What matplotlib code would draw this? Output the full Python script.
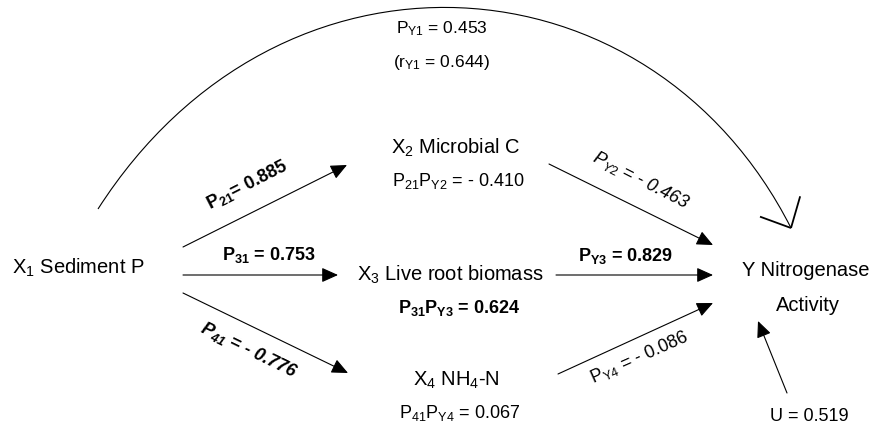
import numpy as np
import matplotlib
matplotlib.use('Agg')
import matplotlib.pyplot as plt
from matplotlib.patches import FancyArrowPatch, PathPatch
from matplotlib.path import Path

plt.rcParams['font.family'] = ['Liberation Sans', 'DejaVu Sans']
plt.rcParams['mathtext.fontset'] = 'custom'
plt.rcParams['mathtext.rm'] = 'Liberation Sans'
plt.rcParams['mathtext.it'] = 'Liberation Sans:italic'
plt.rcParams['mathtext.bf'] = 'Liberation Sans:bold'
plt.rcParams['mathtext.bfit'] = 'Liberation Sans:italic:bold'

# path coefficients
direct_names = ['21', '31', '41']          # X1 -> X2, X3, X4
direct_coefs = [0.885, 0.753, -0.776]
to_y_names = ['Y2', 'Y3', 'Y4']            # X2, X3, X4 -> Y
to_y_coefs = [-0.463, 0.829, -0.086]
indirect = [-0.410, 0.624, 0.067]          # P_k1 * P_Yk
p_y1 = 0.453
r_y1 = 0.644
u_resid = 0.519


def fmt(v):
    return '- %.3f' % -v if v < 0 else '%.3f' % v


fig = plt.figure(figsize=(8.78, 4.26), dpi=100)
ax = fig.add_axes([0, 0, 1, 1])
ax.set_xlim(0, 878)
ax.set_ylim(426, 0)
ax.axis('off')

NODE = 14.5
LAB = 13


def arrow(p0, p1):
    a = FancyArrowPatch(p0, p1, arrowstyle='-|>,head_length=1.0,head_width=0.45',
                        mutation_scale=10, lw=0.8, color='black',
                        shrinkA=0, shrinkB=0)
    ax.add_patch(a)


# nodes
ax.text(12, 274, r'$\mathrm{X_1}$ Sediment P', fontsize=NODE, va='baseline')
ax.text(391, 154, r'$\mathrm{X_2}$ Microbial C', fontsize=NODE, va='baseline')
ax.text(357, 281, r'$\mathrm{X_3}$ Live root biomass', fontsize=NODE, va='baseline')
ax.text(413, 386, r'$\mathrm{X_4}$ $\mathrm{NH_4}$-N', fontsize=NODE, va='baseline')
ax.text(742, 276, 'Y Nitrogenase', fontsize=NODE, va='baseline')
ax.text(776, 311, 'Activity', fontsize=NODE, va='baseline')

# indirect effects under the mediators
ax.text(392, 186, r'$\mathrm{P_{%s}P_{%s}}$ = %s' % (direct_names[0], to_y_names[0], fmt(indirect[0])),
        fontsize=LAB, va='baseline')
ax.text(398, 313, r'$\mathbf{P_{%s}P_{%s}}$ = %s' % (direct_names[1], to_y_names[1], fmt(indirect[1])),
        fontsize=LAB, va='baseline', fontweight='bold')
ax.text(399, 418, r'$\mathrm{P_{%s}P_{%s}}$ = %s' % (direct_names[2], to_y_names[2], fmt(indirect[2])),
        fontsize=LAB, va='baseline')

# arrows X1 -> mediators
arrow((183, 247), (347, 165))
arrow((183, 275), (338, 275))
arrow((183, 293), (348, 373))
# mediators -> Y
arrow((549, 164), (713, 245))
arrow((556, 275), (713, 275))
arrow((558, 374), (713, 303))
# residual
arrow((787, 393), (758, 321))

# path labels
ax.text(247, 185, r'$\mathbf{P_{%s}}$= %s' % (direct_names[0], fmt(direct_coefs[0])),
        fontsize=LAB, fontweight='bold', rotation=27, ha='center', va='center',
        rotation_mode='anchor')
ax.text(222, 260, r'$\mathbf{P_{%s}}$ = %s' % (direct_names[1], fmt(direct_coefs[1])),
        fontsize=LAB, fontweight='bold', va='baseline')
ax.text(249, 350, r'$\mathbfit{P_{%s}}$ = %s' % (direct_names[2], fmt(direct_coefs[2])),
        fontsize=LAB, fontweight='bold', style='italic', rotation=-26, ha='center',
        va='center', rotation_mode='anchor')
ax.text(641, 180, r'$\mathit{P_{%s}}$ = %s' % (to_y_names[0], fmt(to_y_coefs[0])),
        fontsize=LAB, style='italic', rotation=-27, ha='center', va='center',
        rotation_mode='anchor')
ax.text(578, 261, r'$\mathbf{P_{%s}}$ = %s' % (to_y_names[1], fmt(to_y_coefs[1])),
        fontsize=LAB, fontweight='bold', va='baseline')
ax.text(639, 357, r'$\mathrm{P_{%s}}$ = %s' % (to_y_names[2], fmt(to_y_coefs[2])),
        fontsize=LAB, rotation=24, ha='center', va='center', rotation_mode='anchor')
ax.text(770, 421, 'U = %.3f' % u_resid, fontsize=LAB, va='baseline')

# direct effect X1 -> Y (curved, open head)
p0, p1, p2, p3 = (98, 209), (280, -75), (650, -50), (791, 228)
verts = [p0, p1, p2, p3]
codes = [Path.MOVETO, Path.CURVE4, Path.CURVE4, Path.CURVE4]
ax.add_patch(PathPatch(Path(verts, codes), fc='none', ec='black', lw=0.8))
back = np.array(p2, float) - np.array(p3, float)
back /= np.linalg.norm(back)
for ang in (43, -43):
    t = np.deg2rad(ang)
    d = np.array([back[0] * np.cos(t) - back[1] * np.sin(t),
                  back[0] * np.sin(t) + back[1] * np.cos(t)])
    end = np.array(p3) + 33 * d
    ax.plot([p3[0], end[0]], [p3[1], end[1]], color='black', lw=1.3,
            solid_capstyle='butt')

ax.text(442, 33, r'$\mathrm{P_{Y1}}$ = %.3f' % p_y1, fontsize=12.5, ha='center', va='baseline')
ax.text(442, 67, r'($\mathrm{r_{Y1}}$ = %.3f)' % r_y1, fontsize=12.5, ha='center', va='baseline')

fig.savefig('out.png', dpi=100)
